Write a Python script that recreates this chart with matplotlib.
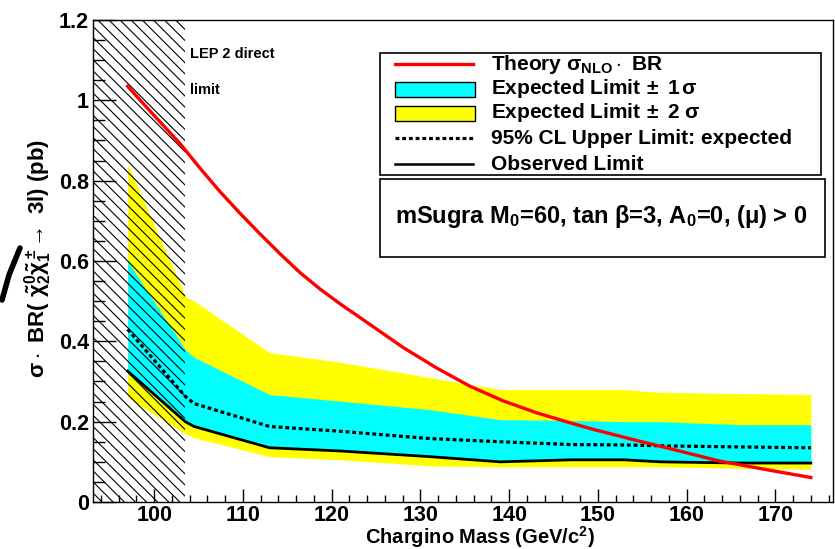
import matplotlib
matplotlib.use('Agg')
import matplotlib.pyplot as plt
from matplotlib.patches import Rectangle
from matplotlib.lines import Line2D
from matplotlib.ticker import MultipleLocator

plt.rcParams['font.family'] = ['Liberation Sans', 'DejaVu Sans']
plt.rcParams['font.weight'] = 'bold'
plt.rcParams['mathtext.fontset'] = 'custom'
plt.rcParams['mathtext.rm'] = 'Liberation Sans:bold'
plt.rcParams['mathtext.it'] = 'Liberation Sans:bold'
plt.rcParams['mathtext.bf'] = 'Liberation Sans:bold'
plt.rcParams['hatch.linewidth'] = 0.8

# theory curve
mass_th = [97, 100, 102.9, 105.2, 107.4, 109.7, 111.9, 114.2, 116.4, 118.7, 121, 123.2, 128.1, 131.8,
           135.6, 139.3, 143.1, 146.9, 149.1, 154.4, 158.1, 163.7, 169.4, 174]
xsec_th = [1.035, 0.962, 0.8925, 0.83, 0.773, 0.718, 0.668, 0.6175, 0.5717, 0.53, 0.4925, 0.459, 0.384, 0.334,
           0.288, 0.252, 0.222, 0.197, 0.183, 0.153, 0.133, 0.102, 0.079, 0.061]

# limits
mass = [97, 103.5, 104.5, 113, 121, 131, 139, 147, 153, 157, 166, 174]
up2 = [0.842, 0.513, 0.50, 0.372, 0.348, 0.31, 0.28, 0.28, 0.28, 0.273, 0.27, 0.2675]
up1 = [0.60, 0.38, 0.36, 0.2675, 0.251, 0.23, 0.205, 0.203, 0.20, 0.20, 0.1925, 0.1925]
expected = [0.43, 0.263, 0.245, 0.188, 0.176, 0.158, 0.15, 0.143, 0.142, 0.14, 0.137, 0.135]
observed = [0.326, 0.20, 0.188, 0.135, 0.127, 0.113, 0.10, 0.105, 0.105, 0.10, 0.097, 0.097]
lo1 = [0.326, 0.20, 0.19, 0.137, 0.128, 0.115, 0.104, 0.107, 0.107, 0.103, 0.10, 0.10]
lo2 = [0.26, 0.17, 0.16, 0.113, 0.105, 0.09, 0.0875, 0.088, 0.088, 0.0875, 0.084, 0.082]

lep_limit = 103.5

fig = plt.figure(figsize=(8.35, 5.49), dpi=100)
ax = fig.add_axes([93/835, 47/549, 740/835, 482/549])

ax.fill_between(mass, lo2, up2, color='#ffff00', lw=0, zorder=1)
ax.fill_between(mass, lo1, up1, color='#00ffff', lw=0, zorder=2)
# LEP excluded region
ax.add_patch(Rectangle((93.1, 0), lep_limit - 93.1, 1.2, facecolor='none', edgecolor='black',
                       hatch='\\\\\\', lw=0, zorder=3))
ax.plot(mass, expected, color='black', lw=2.3, ls=(0, (1.2, 0.9)), zorder=4)
ax.plot(mass, observed, color='black', lw=2.0, zorder=4)
ax.plot(mass_th, xsec_th, color='#ff0000', lw=2.4, zorder=5)

ax.set_xlim(93.1, 176.5)
ax.set_ylim(0, 1.2)
ax.xaxis.set_major_locator(MultipleLocator(10))
ax.xaxis.set_minor_locator(MultipleLocator(2))
ax.yaxis.set_minor_locator(MultipleLocator(0.05))
ax.set_yticks([0, 0.2, 0.4, 0.6, 0.8, 1.0, 1.2])
ax.set_yticklabels(['0', '0.2', '0.4', '0.6', '0.8', '1', '1.2'])
ax.tick_params(axis='both', which='both', direction='in', labelsize=15.5, width=1)
ax.tick_params(axis='y', which='major', length=16.5, pad=3)
ax.tick_params(axis='y', which='minor', length=8.5)
ax.tick_params(axis='x', which='major', length=9.5, pad=2)
ax.tick_params(axis='x', which='minor', length=5)
for lab in ax.get_xticklabels() + ax.get_yticklabels():
    lab.set_fontweight('bold')
for s in ax.spines.values():
    s.set_linewidth(1)

fig.text(480/835, 1 - 537.5/549, r'Chargino Mass (GeV/c$^2$)', ha='center', va='center', fontsize=14.5)
fig.text(38/835, 1 - 258/549, r'$\sigma\cdot$ BR( $\tilde{\chi}^0_2\tilde{\chi}^\pm_1\!\rightarrow$ 3l) (pb)',
         rotation=90, ha='center', va='center', fontsize=16)

ax.text(0.131, 0.93, 'LEP 2 direct', transform=ax.transAxes, fontsize=10.5, ha='left', va='center')
ax.text(0.131, 0.855, 'limit', transform=ax.transAxes, fontsize=10.5, ha='left', va='center')

# legend box drawn by hand
tf = fig.transFigure
W, H = 835, 549
fig.patches.append(Rectangle((380/W, 1 - 175/H), 441/W, 122/H, transform=tf, fill=True,
                             facecolor='white', edgecolor='black', lw=1.2, zorder=10))
fig.patches.append(Rectangle((380/W, 1 - 257/H), 445/W, 78/H, transform=tf, fill=True,
                             facecolor='white', edgecolor='black', lw=1.2, zorder=10))
rows = [64, 89, 113, 138, 164]
labels = [r'Theory $\sigma_{\mathregular{NLO}}\cdot$ BR', r'Expected Limit$\,\pm$ 1$\,\sigma$',
          r'Expected Limit$\,\pm$ 2 $\sigma$', '95% CL Upper Limit: expected', 'Observed Limit']
fig.lines.append(Line2D([395/W, 473/W], [1 - rows[0]/H] * 2, transform=tf, color='#ff0000', lw=2.4, zorder=11))
fig.patches.append(Rectangle((395/W, 1 - 97/H), 80/W, 15/H, transform=tf, facecolor='#00ffff',
                             edgecolor='black', lw=1, zorder=11))
fig.patches.append(Rectangle((395/W, 1 - 121/H), 80/W, 15/H, transform=tf, facecolor='#ffff00',
                             edgecolor='black', lw=1, zorder=11))
fig.lines.append(Line2D([395/W, 473/W], [1 - rows[3]/H] * 2, transform=tf, color='black', lw=2.3,
                        ls=(0, (1.2, 0.9)), zorder=11))
fig.lines.append(Line2D([395/W, 473/W], [1 - rows[4]/H] * 2, transform=tf, color='black', lw=1.8, zorder=11))
for r, lab in zip(rows, labels):
    fig.text(491/W, 1 - r/H, lab, fontsize=15, ha='left', va='center', zorder=12)
fig.text(395/W, 1 - 216/H, r'mSugra M$_{\mathregular{0}}$=60, tan $\beta$=3, A$_{\mathregular{0}}$=0, ($\mu$) > 0',
         fontsize=17, ha='left', va='center', zorder=12)

# stray stroke at the left edge
fig.lines.append(Line2D([2/W, 9/W, 20/W], [1 - 300/H, 1 - 275/H, 1 - 248/H], transform=tf,
                        color='black', lw=4, solid_capstyle='round'))

fig.savefig('out.png', dpi=100)
